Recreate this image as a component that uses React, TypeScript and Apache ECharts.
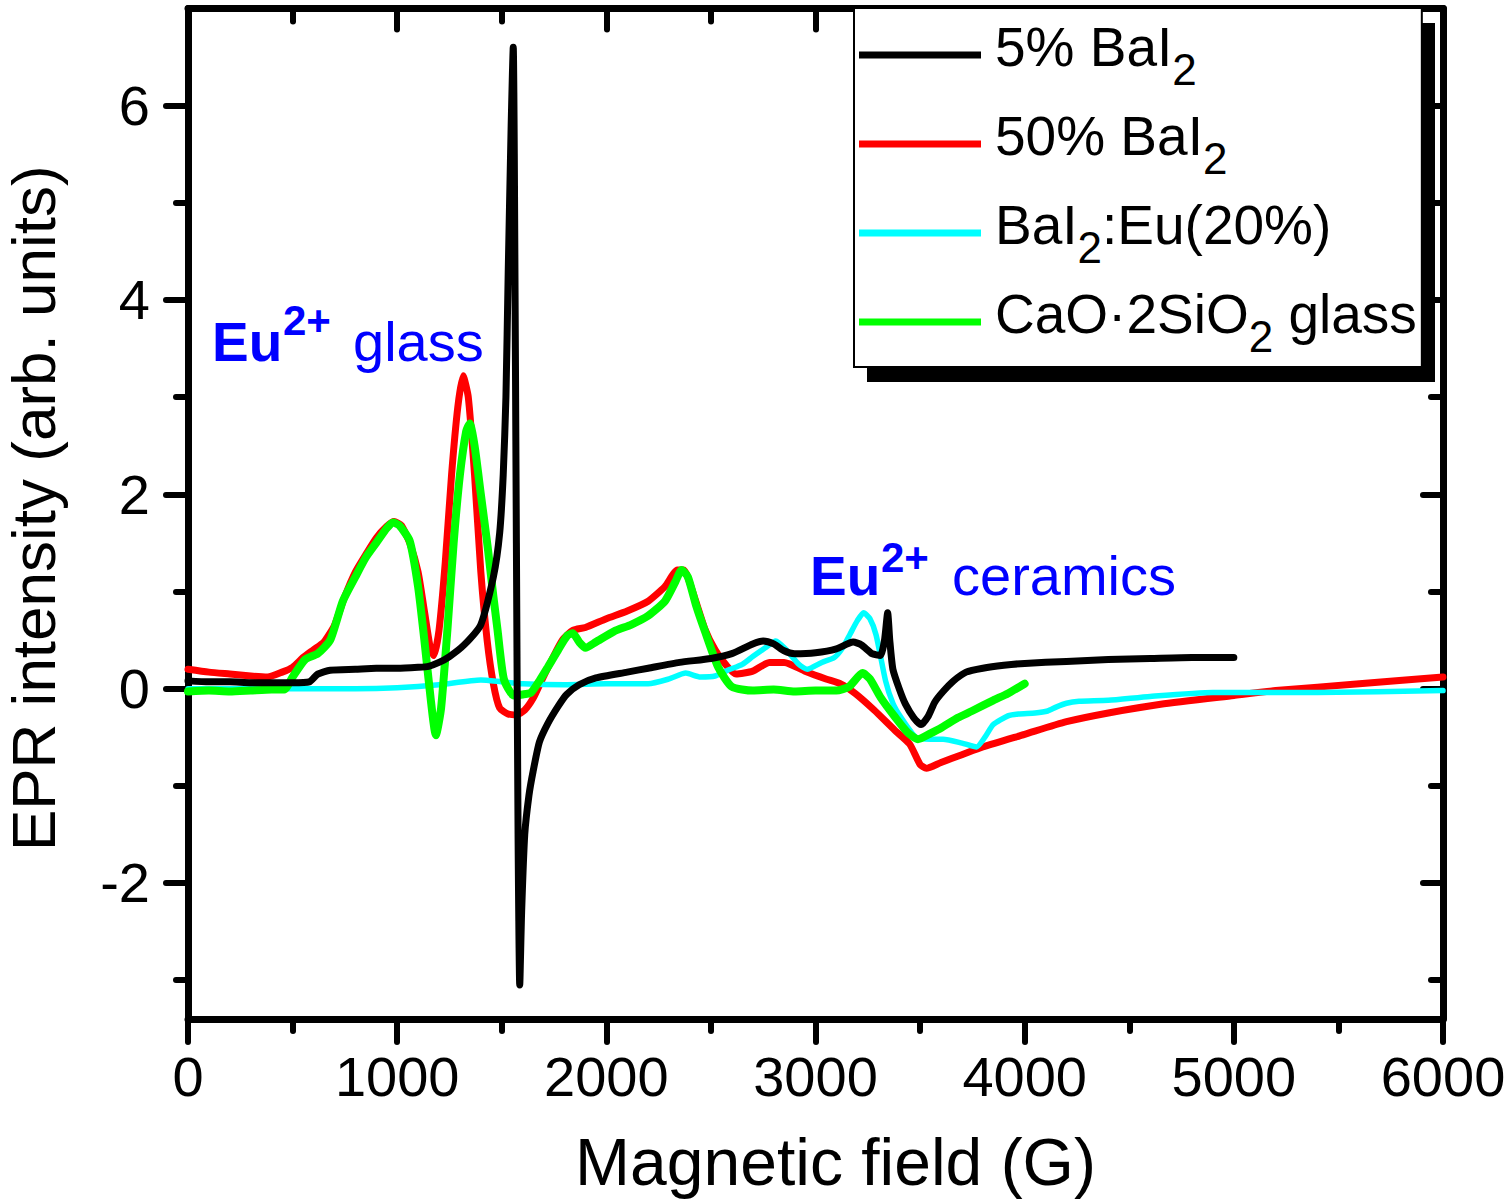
import { useEffect, useRef } from 'react';
import * as echarts from 'echarts';

// ---------- data (Magnetic field in G, EPR intensity in arb. units) ----------
const seriesNames = ['5% BaI2', '50% BaI2', 'BaI2:Eu(20%)', 'CaO·2SiO2 glass'];

const xTickInterval = 1000;
const yMajorTicks = [-2, 0, 2, 4, 6];
const yMinorTicks = [-3, -1, 1, 3, 5];

const black5: [number, number][] = [
  [0, 0.08], [100, 0.07], [200, 0.07], [300, 0.06], [400, 0.06], [500, 0.06], [580, 0.07],
  [620, 0.15], [680, 0.19], [800, 0.2], [900, 0.21], [1000, 0.21], [1100, 0.22], [1150, 0.23],
  [1200, 0.27], [1250, 0.33], [1320, 0.45], [1400, 0.66], [1460, 1.15], [1490, 1.6],
  [1507, 2.2], [1520, 3.0], [1531, 4.3], [1545, 5.8], [1555, 6.6], [1560, 5.5], [1570, 1.5],
  [1578, -1.5], [1586, -3.05], [1595, -2.3], [1610, -1.5], [1630, -1.1], [1650, -0.85],
  [1680, -0.55], [1720, -0.36], [1770, -0.18], [1810, -0.06], [1870, 0.04], [1950, 0.11],
  [2100, 0.17], [2200, 0.21], [2350, 0.27], [2500, 0.31], [2600, 0.36], [2700, 0.46],
  [2750, 0.49], [2800, 0.46], [2850, 0.39], [2900, 0.36], [3000, 0.37], [3100, 0.41],
  [3180, 0.48], [3220, 0.45], [3270, 0.36], [3310, 0.34], [3330, 0.5], [3345, 0.78],
  [3355, 0.5], [3370, 0.2], [3400, 0.0], [3430, -0.16], [3470, -0.3], [3505, -0.37],
  [3540, -0.28], [3570, -0.14], [3610, -0.03], [3660, 0.08], [3720, 0.17], [3800, 0.21],
  [3900, 0.24], [4000, 0.26], [4200, 0.28], [4400, 0.3], [4600, 0.31], [4800, 0.32], [5000, 0.32],
];

const red50: [number, number][] = [
  [0, 0.2], [100, 0.17], [200, 0.15], [300, 0.13], [380, 0.12], [450, 0.17], [500, 0.22],
  [550, 0.32], [600, 0.4], [650, 0.48], [700, 0.65], [750, 0.95], [800, 1.2], [850, 1.38],
  [900, 1.55], [950, 1.67], [985, 1.72], [1020, 1.68], [1060, 1.5], [1100, 1.2], [1130, 0.8],
  [1160, 0.4], [1175, 0.34], [1200, 0.6], [1230, 1.3], [1260, 2.2], [1290, 2.9], [1315, 3.22],
  [1340, 3.0], [1370, 2.2], [1400, 1.2], [1430, 0.5], [1460, 0.05], [1490, -0.2], [1530, -0.26],
  [1570, -0.27], [1610, -0.22], [1650, -0.1], [1690, 0.08], [1740, 0.3], [1790, 0.5],
  [1840, 0.6], [1900, 0.63], [2000, 0.72], [2100, 0.8], [2200, 0.9], [2280, 1.05], [2340, 1.22],
  [2370, 1.22], [2420, 0.95], [2470, 0.62], [2520, 0.4], [2570, 0.25], [2620, 0.15],
  [2700, 0.18], [2780, 0.27], [2850, 0.27], [2950, 0.18], [3050, 0.1], [3120, 0.05],
  [3190, -0.05], [3280, -0.22], [3380, -0.43], [3450, -0.57], [3500, -0.78], [3530, -0.82],
  [3600, -0.76], [3700, -0.68], [3800, -0.6], [4000, -0.47], [4200, -0.34], [4400, -0.25],
  [4650, -0.16], [5000, -0.07], [5200, -0.02], [5600, 0.05], [6000, 0.12],
];

const cyanEu: [number, number][] = [
  [0, 0.0], [200, 0.0], [400, 0.0], [600, 0.0], [800, 0.0], [1000, 0.01], [1200, 0.04],
  [1400, 0.09], [1500, 0.07], [1600, 0.05], [1800, 0.04], [2000, 0.05], [2200, 0.05],
  [2300, 0.1], [2380, 0.16], [2450, 0.12], [2520, 0.13], [2580, 0.19], [2650, 0.25],
  [2700, 0.33], [2760, 0.42], [2810, 0.49], [2860, 0.4], [2920, 0.25], [2960, 0.2],
  [3030, 0.27], [3090, 0.32], [3130, 0.42], [3165, 0.56], [3200, 0.7], [3230, 0.78],
  [3260, 0.72], [3290, 0.55], [3335, 0.08], [3370, -0.15], [3410, -0.3], [3480, -0.5],
  [3550, -0.52], [3610, -0.52], [3700, -0.56], [3770, -0.6], [3810, -0.5], [3850, -0.37],
  [3920, -0.28], [3970, -0.26], [4050, -0.25], [4110, -0.23], [4150, -0.19], [4200, -0.15],
  [4260, -0.13], [4400, -0.12], [4600, -0.08], [4900, -0.04], [5400, -0.04], [6000, -0.02],
];

const greenGlass: [number, number][] = [
  [0, -0.03], [100, -0.02], [200, -0.03], [300, -0.02], [400, -0.01], [460, -0.01],
  [500, 0.12], [560, 0.3], [620, 0.36], [680, 0.5], [740, 0.9], [800, 1.15], [850, 1.35],
  [900, 1.5], [950, 1.65], [980, 1.71], [1010, 1.68], [1060, 1.52], [1100, 1.05], [1130, 0.5],
  [1160, -0.1], [1185, -0.48], [1210, -0.2], [1240, 0.6], [1270, 1.5], [1300, 2.2],
  [1330, 2.65], [1347, 2.73], [1370, 2.5], [1400, 2.0], [1432, 1.47], [1460, 0.95],
  [1480, 0.6], [1510, 0.1], [1557, -0.07], [1600, -0.06], [1640, -0.04], [1680, 0.08],
  [1720, 0.22], [1770, 0.4], [1815, 0.55], [1840, 0.57], [1870, 0.48], [1900, 0.42],
  [1950, 0.48], [2037, 0.59], [2120, 0.66], [2200, 0.75], [2280, 0.9], [2330, 1.1],
  [2360, 1.22], [2390, 1.15], [2430, 0.85], [2470, 0.6], [2535, 0.22], [2600, 0.02],
  [2700, -0.02], [2800, -0.01], [2900, -0.03], [3000, -0.02], [3100, -0.02], [3160, 0.02],
  [3225, 0.16], [3260, 0.1], [3311, -0.09], [3383, -0.3], [3440, -0.45], [3490, -0.52],
  [3550, -0.46], [3604, -0.4], [3680, -0.3], [3748, -0.23], [3850, -0.12], [3920, -0.05],
  [4000, 0.05],
];

const legendLabels: Record<string, string> = {
  '5% BaI2': '{g| }{m|5% BaI}{s|2}',
  '50% BaI2': '{g| }{m|50% BaI}{s|2}',
  'BaI2:Eu(20%)': '{g| }{m|BaI}{s|2}{m|:Eu(20%)}',
  'CaO·2SiO2 glass': '{g| }{m|CaO·2SiO}{s|2}{m| glass}',
};

const FONT = "'Liberation Sans', Arial, Helvetica, sans-serif";
const BLUE = '#0000ff';

function makeSeries(name: string, data: [number, number][], color: string, width: number) {
  return {
    name,
    type: 'line',
    data,
    showSymbol: false,
    symbol: 'none',
    smooth: 0.2,
    lineStyle: { color, width, join: 'round', cap: 'round' },
    itemStyle: { color },
    xAxisIndex: 0,
    yAxisIndex: 0,
  };
}

export default function App() {
  const ref = useRef<HTMLDivElement>(null);

  useEffect(() => {
    if (!ref.current) return;
    const chart = echarts.init(ref.current, undefined, { renderer: 'svg' });

    const axisLine = { show: true, onZero: false, lineStyle: { color: '#000', width: 7 } };
    const tickLine = { color: '#000', width: 6, cap: 'round' };

    const option: any = {
      animation: false,
      backgroundColor: '#ffffff',
      grid: { left: 188, right: 65, top: 8.5, bottom: 185, containLabel: false, outerBoundsMode: 'none' },
      legend: {
        data: seriesNames,
        orient: 'vertical',
        left: 854,
        top: 8,
        padding: [11, 5, 9, 5],
        itemGap: 17,
        itemWidth: 122,
        itemHeight: 7,
        icon: 'rect',
        align: 'left',
        selectedMode: false,
        backgroundColor: '#ffffff',
        borderColor: '#000000',
        borderWidth: 2,
        formatter: (name: string) => legendLabels[name] || name,
        textStyle: {
          color: '#000',
          fontFamily: FONT,
          fontSize: 55,
          rich: {
            g: { width: 9, fontSize: 10, lineHeight: 10 },
            m: { color: '#000', fontFamily: FONT, fontSize: 55, lineHeight: 72, verticalAlign: 'top' },
            s: { color: '#000', fontFamily: FONT, fontSize: 44, lineHeight: 44, verticalAlign: 'bottom' },
          },
        },
      },
      xAxis: [
        {
          type: 'value',
          position: 'bottom',
          min: 0,
          max: 6000,
          interval: xTickInterval,
          axisLine,
          axisTick: { show: true, inside: false, length: 23, lineStyle: tickLine },
          minorTick: { show: true, splitNumber: 2, length: 12, lineStyle: tickLine },
          splitLine: { show: false },
          minorSplitLine: { show: false },
          axisLabel: {
            show: true,
            color: '#000',
            fontFamily: FONT,
            fontSize: 56,
            margin: 29,
            formatter: (v: number) => String(v),
          },
          name: 'Magnetic field (G)',
          nameLocation: 'middle',
          nameGap: 110,
          nameTextStyle: { color: '#000', fontFamily: FONT, fontSize: 66, padding: [0, 0, 0, 40] },
        },
        {
          type: 'value',
          position: 'top',
          min: 0,
          max: 6000,
          interval: xTickInterval,
          axisLine,
          axisTick: { show: true, inside: true, length: 21, lineStyle: tickLine },
          minorTick: { show: true, splitNumber: 2, length: 13, lineStyle: tickLine },
          splitLine: { show: false },
          axisLabel: { show: false },
        },
      ],
      yAxis: [
        {
          type: 'value',
          position: 'left',
          min: -3.4,
          max: 7,
          axisLine,
          axisTick: { show: true, inside: false, length: 22, customValues: yMajorTicks, lineStyle: tickLine },
          splitLine: { show: false },
          axisLabel: {
            show: true,
            customValues: yMajorTicks,
            color: '#000',
            fontFamily: FONT,
            fontSize: 56,
            margin: 38,
            formatter: (v: number) => String(v),
          },
          name: 'EPR intensity (arb. units)',
          nameLocation: 'middle',
          nameGap: 124,
          nameTextStyle: { color: '#000', fontFamily: FONT, fontSize: 62, lineHeight: 62, padding: [0, 0, 0, 11] },
        },
        {
          type: 'value',
          position: 'left',
          min: -3.4,
          max: 7,
          axisLine: { show: false, onZero: false },
          axisTick: { show: true, inside: false, length: 12, customValues: yMinorTicks, lineStyle: tickLine },
          splitLine: { show: false },
          axisLabel: { show: false },
        },
        {
          type: 'value',
          position: 'right',
          min: -3.4,
          max: 7,
          axisLine,
          axisTick: { show: true, inside: true, length: 20, customValues: yMajorTicks, lineStyle: tickLine },
          splitLine: { show: false },
          axisLabel: { show: false },
        },
        {
          type: 'value',
          position: 'right',
          min: -3.4,
          max: 7,
          axisLine: { show: false, onZero: false },
          axisTick: { show: true, inside: true, length: 12, customValues: yMinorTicks, lineStyle: tickLine },
          splitLine: { show: false },
          axisLabel: { show: false },
        },
      ],
      series: [
        makeSeries(seriesNames[1], red50, '#ff0000', 7),
        makeSeries(seriesNames[2], cyanEu, '#00ffff', 5.5),
        makeSeries(seriesNames[3], greenGlass, '#00ff00', 8),
        makeSeries(seriesNames[0], black5, '#000000', 7),
      ],
      graphic: [
        { type: 'rect', z: 3, shape: { x: 867, y: 23, width: 568, height: 359 }, style: { fill: '#000' } },
        { type: 'text', z: 5, x: 212, y: 342, style: { text: 'Eu', fill: BLUE, fontFamily: FONT, fontSize: 55, fontWeight: 'bold', align: 'left', verticalAlign: 'middle' } },
        { type: 'text', z: 5, x: 283, y: 320, style: { text: '2+', fill: BLUE, fontFamily: FONT, fontSize: 42, fontWeight: 'bold', align: 'left', verticalAlign: 'middle' } },
        { type: 'text', z: 5, x: 353, y: 341.6, style: { text: 'glass', fill: BLUE, fontFamily: FONT, fontSize: 56, align: 'left', verticalAlign: 'middle' } },
        { type: 'text', z: 5, x: 810, y: 576, style: { text: 'Eu', fill: BLUE, fontFamily: FONT, fontSize: 55, fontWeight: 'bold', align: 'left', verticalAlign: 'middle' } },
        { type: 'text', z: 5, x: 881, y: 557, style: { text: '2+', fill: BLUE, fontFamily: FONT, fontSize: 42, fontWeight: 'bold', align: 'left', verticalAlign: 'middle' } },
        { type: 'text', z: 5, x: 952, y: 575.6, style: { text: 'ceramics', fill: BLUE, fontFamily: FONT, fontSize: 56, align: 'left', verticalAlign: 'middle' } },
      ],
    };

    chart.setOption(option);
    return () => {
      chart.dispose();
    };
  }, []);

  return (
    <div
      ref={ref}
      style={{ position: 'absolute', left: 0, top: 0, width: 1508, height: 1204, background: '#fff' }}
    />
  );
}
